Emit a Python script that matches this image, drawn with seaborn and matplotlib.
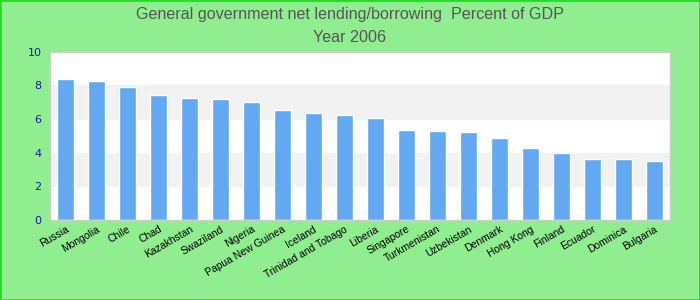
import matplotlib
matplotlib.use("Agg")
import matplotlib.pyplot as plt
import seaborn as sns
import pandas as pd

countries = ["Russia", "Mongolia", "Chile", "Chad", "Kazakhstan", "Swaziland", "Nigeria",
             "Papua New Guinea", "Iceland", "Trinidad and Tobago", "Liberia", "Singapore",
             "Turkmenistan", "Uzbekistan", "Denmark", "Hong Kong", "Finland", "Ecuador",
             "Dominica", "Bulgaria"]
values = [8.36, 8.24, 7.89, 7.42, 7.24, 7.18, 7.00, 6.52, 6.35, 6.23, 6.06, 5.35,
          5.29, 5.23, 4.87, 4.28, 3.98, 3.63, 3.63, 3.51]
yticks = [0, 2, 4, 6, 8, 10]

df = pd.DataFrame({"country": countries, "value": values})

sns.set_style("white")
fig = plt.figure(figsize=(7, 3), dpi=100, facecolor="#90ee90")
ax = fig.add_axes([50/700, 1 - 220/300, 620/700, (220 - 51.7)/300])
ax.set_facecolor("white")

for lo, hi in [(2, 4), (6, 8)]:
    ax.axhspan(lo, hi, color="#f2f2f2", zorder=0)

sns.barplot(data=df, x="country", y="value", color="#62a9f2", width=0.55,
            saturation=1, ax=ax, zorder=2)
ax.set_xlim(-0.5, len(countries) - 0.5)
ax.set_ylim(0, 10)
ax.set_yticks(yticks)
ax.set_yticklabels([str(t) for t in yticks], color="#1a1a9a", fontsize=8)
ax.set_xlabel("")
ax.set_ylabel("")
ax.tick_params(axis="both", length=0, pad=6)
ax.tick_params(axis="x", pad=3)
ax.set_xticks(range(len(countries)))
ax.set_xticklabels(countries, rotation=30, ha="right", rotation_mode="anchor",
                   fontsize=7.5, color="black", family="Liberation Sans")
for s in ax.spines.values():
    s.set_color("#cccccc")
    s.set_linewidth(1)

fig.text(0.5, 1 - 14/300, "General government net lending/borrowing  Percent of GDP",
         ha="center", va="center", fontsize=11.6, color="#555555", family="Liberation Sans")
fig.text(0.5, 1 - 37/300, "Year 2006", ha="center", va="center", fontsize=11.6,
         color="#555555", family="Liberation Sans")

border = plt.Rectangle((0, 0), 1, 1, transform=fig.transFigure, fill=False,
                       edgecolor="#22dd22", linewidth=2)
fig.patches.append(border)

fig.savefig("out.png", dpi=100, facecolor=fig.get_facecolor())
